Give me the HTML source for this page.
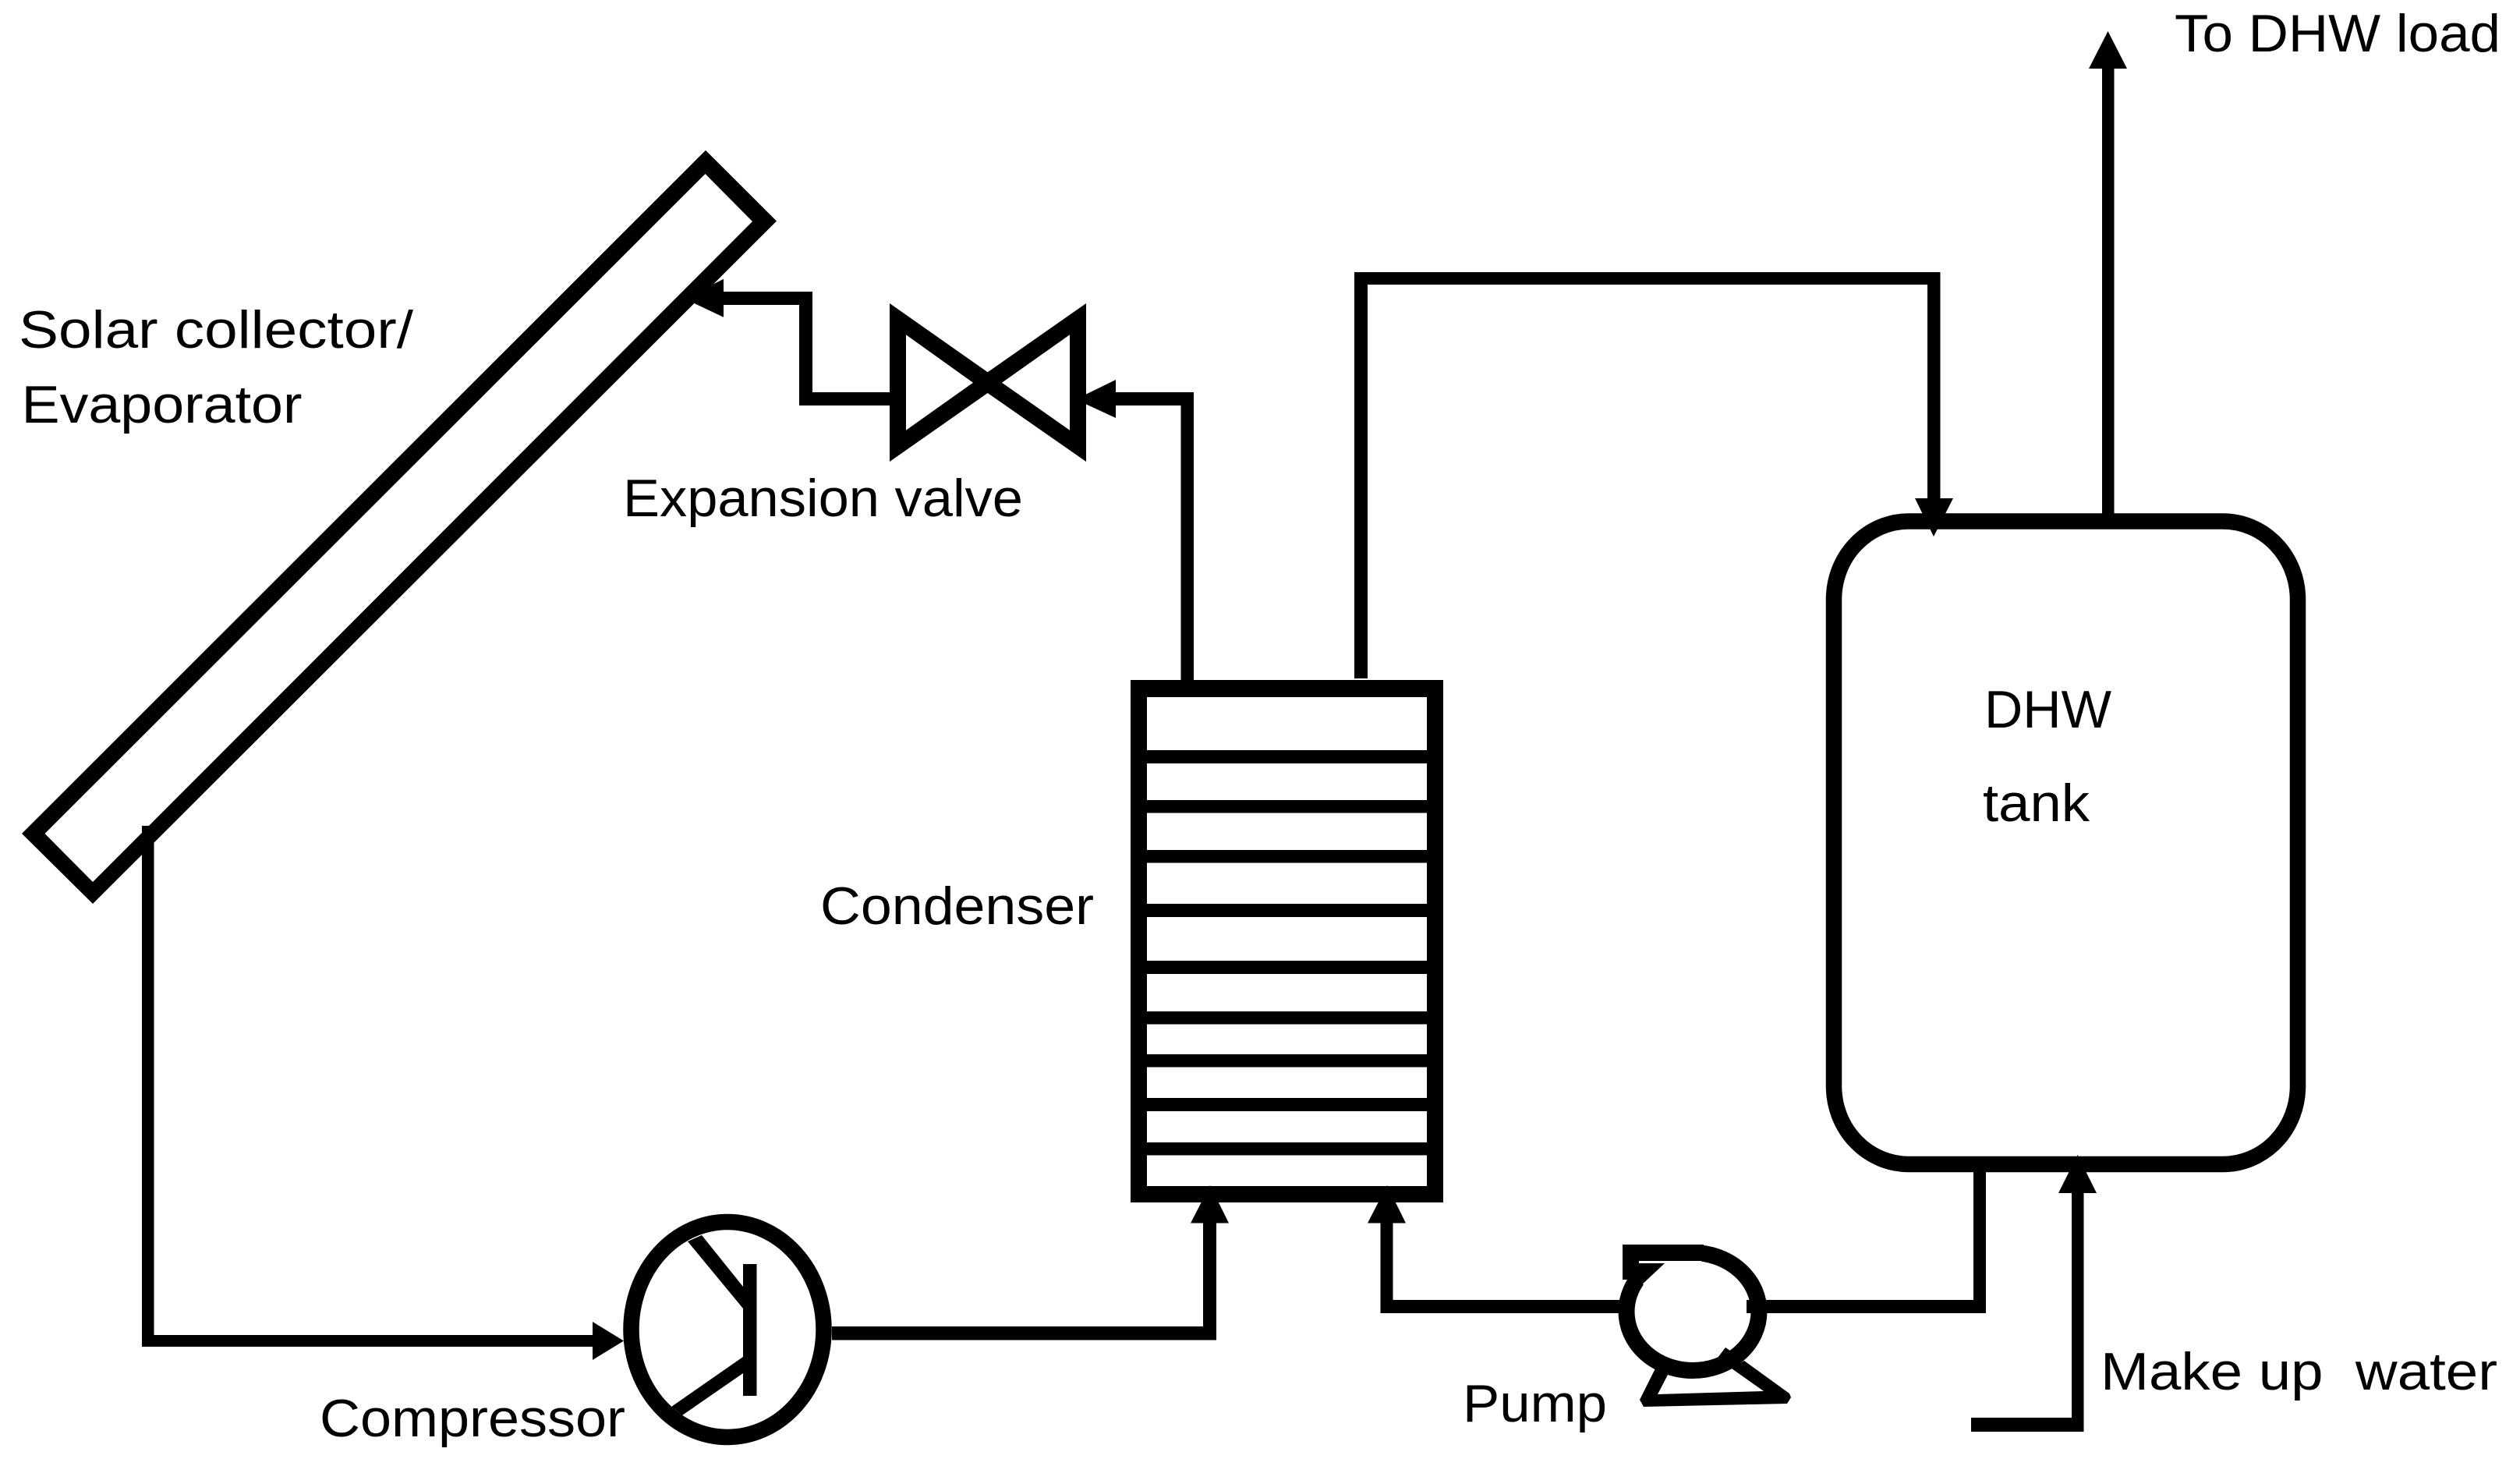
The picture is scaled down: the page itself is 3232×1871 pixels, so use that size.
<!DOCTYPE html>
<html>
<head>
<meta charset="utf-8">
<style>
html,body{margin:0;padding:0;background:#fff;width:3232px;height:1871px;overflow:hidden}
svg{display:block}
text{font-family:"Liberation Sans",sans-serif;font-size:68px;fill:#000}
</style>
</head>
<body>
<svg width="3232" height="1871" viewBox="0 0 3232 1871" xmlns="http://www.w3.org/2000/svg">
<rect width="3232" height="1871" fill="#fff"/>

<!-- Solar collector -->
<path fill-rule="evenodd" fill="#000" d="M905 192.700L996 283.500L119 1159L28 1069ZM904.500 223L57.500 1069L119 1131L965 284Z"/>

<!-- Collector to compressor -->
<rect x="182" y="1059" width="15.500" height="668"/>
<rect x="182" y="1712" width="590" height="15"/>
<polygon points="760,1695 800,1719.500 760,1744"/>

<!-- Compressor -->
<ellipse cx="933" cy="1705" rx="123.500" ry="138" fill="#fff" stroke="#000" stroke-width="20.500"/>
<rect x="953" y="1621" width="17.500" height="169"/>
<polygon points="882,1592 900,1584 953,1650 953,1678"/>
<polygon points="861,1804 875,1815 953,1761 953,1740"/>
<rect x="1067" y="1701" width="493" height="17.500"/>

<!-- Condenser -->
<path fill-rule="evenodd" fill="#000" d="M1450 872H1851V1542H1450ZM1471 894V1521H1830V894Z"/>
<rect x="1471" y="962" width="359" height="17"/>
<rect x="1471" y="1026" width="359" height="16.500"/>
<rect x="1471" y="1090" width="359" height="16.500"/>
<rect x="1471" y="1159" width="359" height="17"/>
<rect x="1471" y="1232" width="359" height="17"/>
<rect x="1471" y="1297" width="359" height="16.500"/>
<rect x="1471" y="1352" width="359" height="16.500"/>
<rect x="1471" y="1408" width="359" height="17"/>
<rect x="1471" y="1465" width="359" height="16.500"/>

<!-- Condenser inlet arrows -->
<rect x="1543" y="1560" width="17" height="158"/>
<polygon points="1552,1520 1576,1568.500 1527,1568.500"/>
<rect x="1770.500" y="1560" width="16" height="124"/>
<polygon points="1779,1520 1803,1568.500 1754,1568.500"/>

<!-- Condenser to valve -->
<rect x="1514.500" y="503" width="16.500" height="372"/>
<rect x="1420" y="503" width="111" height="17"/>
<polygon points="1431,487 1392,506 1392,518 1431,536"/>

<!-- Expansion valve -->
<path fill-rule="evenodd" fill="#000" d="M1141 389L1266.700 477.300L1393 389V592L1266.700 504L1141 592ZM1162 429.300V551.700L1248 490.700ZM1372 429.300L1285 490.700L1372 551.700Z"/>

<!-- Valve to collector -->
<rect x="1025" y="503" width="116" height="17"/>
<rect x="1025" y="374" width="17" height="146"/>
<rect x="920" y="374" width="122" height="17"/>
<polygon points="928,357.700 880,382 891,389.300 928,406.700"/>

<!-- Condenser to tank -->
<rect x="1737" y="349" width="17" height="521"/>
<rect x="1737" y="349" width="751.500" height="16"/>
<rect x="2472" y="349" width="16.500" height="295"/>

<!-- DHW tank -->
<rect x="2352" y="668.500" width="595" height="824.500" rx="96" ry="100" fill="#fff" stroke="#000" stroke-width="20.500"/>
<polygon points="2480,688 2505,639 2456,639"/>

<!-- To DHW load -->
<rect x="2696" y="80" width="15.500" height="582"/>
<polygon points="2703.500,40 2728,88 2679,88"/>

<!-- Pump piping -->
<rect x="1771" y="1667" width="310" height="17"/>
<rect x="2240" y="1667" width="307" height="17"/>
<rect x="2531" y="1500" width="16" height="184"/>

<!-- Pump -->
<polygon points="2103,1795 2123,1755 2139,1763 2126,1788 2262,1784 2221,1755 2237,1745 2295,1787 2297,1792 2292,1800 2108,1804"/>
<ellipse cx="2171" cy="1682" rx="85" ry="75.500" fill="#fff" stroke="#000" stroke-width="21"/>
<rect x="2240" y="1667" width="22" height="17"/>
<polygon fill="#fff" points="2102,1617 2183,1617 2171,1625 2150,1642 2108,1650"/>
<rect x="2081" y="1596" width="21" height="45"/>
<rect x="2081" y="1596" width="104" height="21"/>
<polygon points="2102,1620 2135,1620 2103,1650 2092,1650 2092,1620"/>
<polygon points="2203,1741 2213,1728 2219,1732 2224,1741"/>

<!-- Make up water -->
<rect x="2657" y="1520" width="15.500" height="316"/>
<rect x="2528" y="1818" width="144.500" height="18"/>
<polygon points="2664.500,1481 2689,1530 2640,1530"/>

<!-- Labels -->
<text x="24" y="446" textLength="506" lengthAdjust="spacingAndGlyphs">Solar collector/</text>
<text x="27.500" y="542" textLength="360" lengthAdjust="spacingAndGlyphs">Evaporator</text>
<text x="799" y="662" textLength="513" lengthAdjust="spacingAndGlyphs">Expansion valve</text>
<text x="1052" y="1185" textLength="351" lengthAdjust="spacingAndGlyphs">Condenser</text>
<text x="410" y="1842" textLength="392" lengthAdjust="spacingAndGlyphs">Compressor</text>
<text x="1876" y="1823" textLength="185" lengthAdjust="spacingAndGlyphs">Pump</text>
<text x="2694" y="1782" textLength="509" lengthAdjust="spacingAndGlyphs" xml:space="preserve">Make up  water</text>
<text x="2789" y="66" textLength="418" lengthAdjust="spacingAndGlyphs">To DHW load</text>
<text x="2545" y="933" textLength="163" lengthAdjust="spacingAndGlyphs">DHW</text>
<text x="2543" y="1053" textLength="137" lengthAdjust="spacingAndGlyphs">tank</text>
</svg>
</body>
</html>
